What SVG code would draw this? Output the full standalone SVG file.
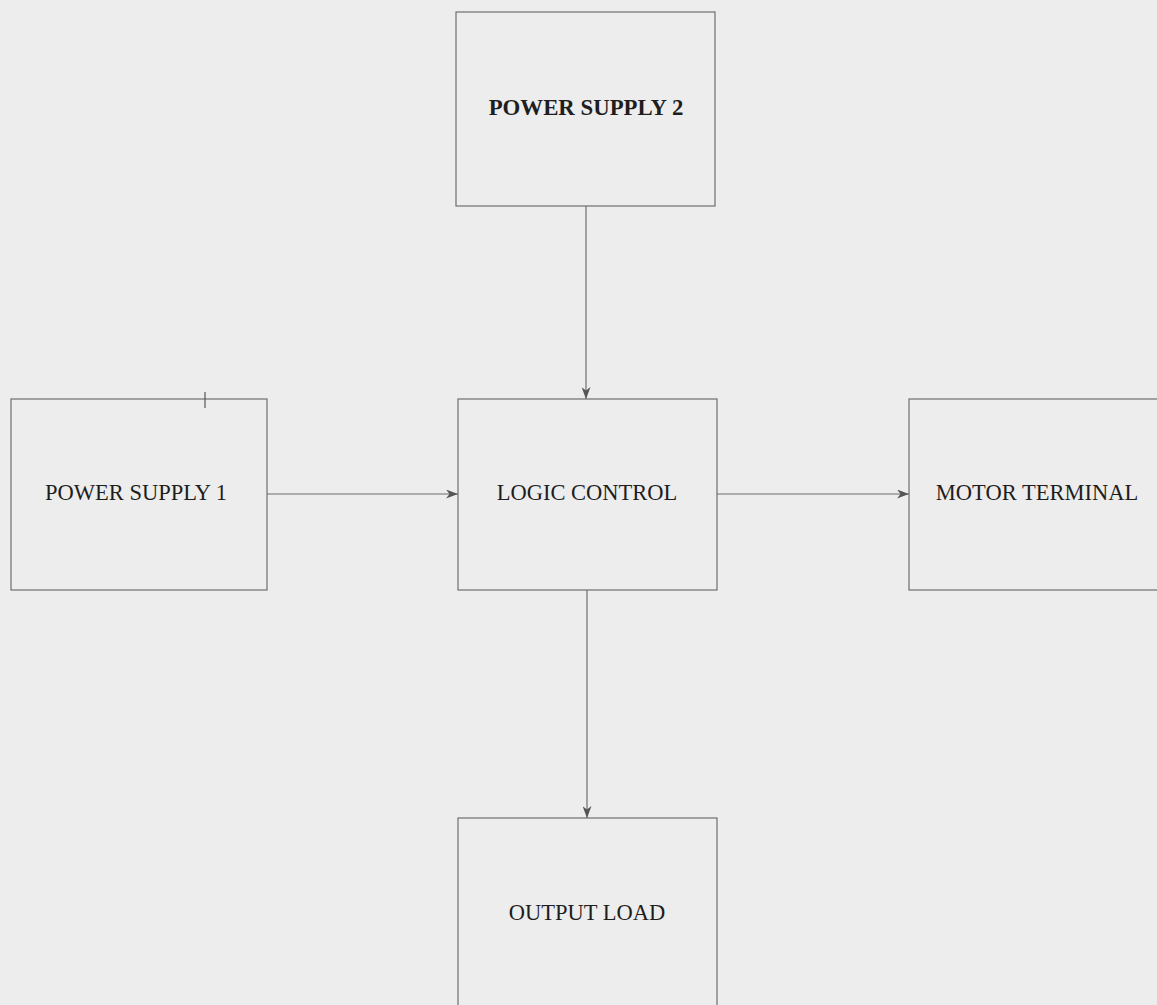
<svg xmlns="http://www.w3.org/2000/svg" width="1157" height="1005" viewBox="0 0 1157 1005">
<style>
.box{fill:none;stroke:#6e6e6e;stroke-width:1.2}
.lbl{font-family:"Liberation Serif","Times New Roman",serif;font-size:22.5px;fill:#1e1e1e;text-anchor:middle}
.b{font-weight:bold;font-size:22.8px}
.con{stroke:#6e6e6e;stroke-width:1.2;fill:none;marker-end:url(#ah)}
</style>
<defs>
<marker id="ah" viewBox="0 0 12 9" refX="12" refY="4.5" markerWidth="12" markerHeight="9" markerUnits="userSpaceOnUse" orient="auto">
<path d="M0,0 L12,4.5 L0,9 L3.5,4.5 Z" fill="#555"/>
</marker>
</defs>
<rect width="1157" height="1005" fill="#ededed"/>
<g id="connectors">
<line class="con" x1="586" y1="206" x2="586" y2="399"/>
<line class="con" x1="267" y1="494" x2="458" y2="494"/>
<line class="con" x1="717" y1="494" x2="909" y2="494"/>
<line class="con" x1="587" y1="590" x2="587" y2="818"/>
</g>
<g id="power-supply-2">
<rect class="box" x="456" y="12" width="259" height="194"/>
<text class="lbl b" x="586" y="115">POWER SUPPLY 2</text>
</g>
<g id="power-supply-1">
<rect class="box" x="11" y="399" width="256" height="191"/>
<line x1="205" y1="392" x2="205" y2="408" stroke="#555" stroke-width="1.2"/>
<text class="lbl" x="136" y="500">POWER SUPPLY 1</text>
</g>
<g id="logic-control">
<rect class="box" x="458" y="399" width="259" height="191"/>
<text class="lbl" x="587" y="500">LOGIC CONTROL</text>
</g>
<g id="motor-terminal">
<rect class="box" x="909" y="399" width="260" height="191"/>
<text class="lbl" x="1037" y="500">MOTOR TERMINAL</text>
</g>
<g id="output-load">
<rect class="box" x="458" y="818" width="259" height="200"/>
<text class="lbl" x="587" y="920">OUTPUT LOAD</text>
</g>
</svg>
